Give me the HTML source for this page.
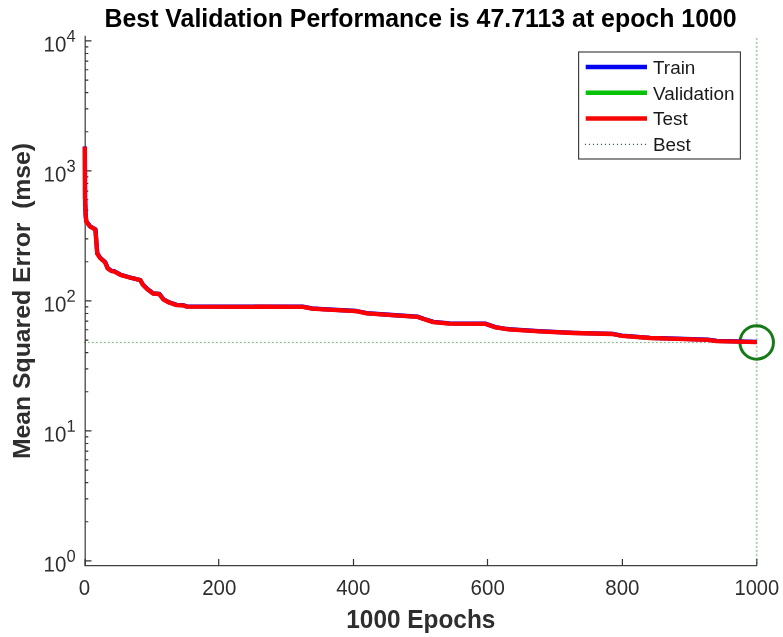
<!DOCTYPE html>
<html lang="en"><head><meta charset="utf-8"><title>Best Validation Performance</title>
<style>html,body{margin:0;padding:0;background:#fff;}body{width:783px;height:637px;overflow:hidden;}svg{display:block;font-family:"Liberation Sans",Arial,Helvetica,sans-serif;}.tk{font-size:20.5px;fill:#2e2e2e;}.ex{font-size:16.5px;fill:#2e2e2e;}.lb{font-size:24.5px;font-weight:bold;fill:#2e2e2e;}.tt{font-size:24.9px;font-weight:bold;fill:#000;}.lg{font-size:18.9px;fill:#1a1a1a;}</style></head><body>
<svg width="783" height="637" viewBox="0 0 783 637">
<rect width="783" height="637" fill="#fff"/>
<text class="tt" transform="translate(420.6 26.6) scale(1 1.04)" text-anchor="middle">Best Validation Performance is 47.7113 at epoch 1000</text>
<g stroke="#404040" stroke-width="1" fill="none" shape-rendering="auto">
<path d="M85.2 35.8V565.7H757.0" stroke-width="1.25"/>
<path d="M85.10 565.7v-6.7M218.70 565.7v-6.7M353.50 565.7v-6.7M487.50 565.7v-6.7M622.40 565.7v-6.7M756.80 565.7v-6.7" stroke-width="1.2" stroke="#333"/>
<path d="M85.0 560.90h6.5M85.0 521.77h3.3M85.0 498.87h3.3M85.0 482.63h3.3M85.0 470.03h3.3M85.0 459.74h3.3M85.0 451.04h3.3M85.0 443.50h3.3M85.0 436.85h3.3M85.0 430.90h6.5M85.0 391.77h3.3M85.0 368.87h3.3M85.0 352.63h3.3M85.0 340.03h3.3M85.0 329.74h3.3M85.0 321.04h3.3M85.0 313.50h3.3M85.0 306.85h3.3M85.0 300.90h6.5M85.0 261.77h3.3M85.0 238.87h3.3M85.0 222.63h3.3M85.0 210.03h3.3M85.0 199.74h3.3M85.0 191.04h3.3M85.0 183.50h3.3M85.0 176.85h3.3M85.0 170.90h6.5M85.0 131.77h3.3M85.0 108.87h3.3M85.0 92.63h3.3M85.0 80.03h3.3M85.0 69.74h3.3M85.0 61.04h3.3M85.0 53.50h3.3M85.0 46.85h3.3M85.0 40.90h6.5" stroke-width="1.2" stroke="#333"/>
</g>
<text class="tk" transform="translate(84.4 594.9) scale(1 1.05)" text-anchor="middle">0</text>
<text class="tk" transform="translate(219.3 594.9) scale(1 1.05)" text-anchor="middle">200</text>
<text class="tk" transform="translate(353.3 594.9) scale(1 1.05)" text-anchor="middle">400</text>
<text class="tk" transform="translate(487.7 594.9) scale(1 1.05)" text-anchor="middle">600</text>
<text class="tk" transform="translate(622.4 594.9) scale(1 1.05)" text-anchor="middle">800</text>
<text class="tk" style="font-size:20.1px" transform="translate(756.8 594.9) scale(1 1.07)" text-anchor="middle">1000</text>
<text class="tk" transform="translate(66.3 571.50) rotate(0.03) scale(1 1.05)" text-anchor="end">10</text>
<text class="ex" transform="translate(66.5 561.70) rotate(0.03) scale(1 1.04)">0</text>
<text class="tk" transform="translate(66.3 441.50) rotate(0.03) scale(1 1.05)" text-anchor="end">10</text>
<text class="ex" transform="translate(66.5 431.70) rotate(0.03) scale(1 1.04)">1</text>
<text class="tk" transform="translate(66.3 311.50) rotate(0.03) scale(1 1.05)" text-anchor="end">10</text>
<text class="ex" transform="translate(66.5 301.70) rotate(0.03) scale(1 1.04)">2</text>
<text class="tk" transform="translate(66.3 181.50) rotate(0.03) scale(1 1.05)" text-anchor="end">10</text>
<text class="ex" transform="translate(66.5 171.70) rotate(0.03) scale(1 1.04)">3</text>
<text class="tk" transform="translate(66.3 51.50) rotate(0.03) scale(1 1.05)" text-anchor="end">10</text>
<text class="ex" transform="translate(66.5 41.70) rotate(0.03) scale(1 1.04)">4</text>
<text class="lb" style="font-size:24.4px" transform="translate(420.8 627.7) scale(1 1.02)" text-anchor="middle">1000 Epochs</text>
<text class="lb" style="font-size:24.75px" transform="translate(29.7 300.95) rotate(-90) scale(1 0.995)" text-anchor="middle" xml:space="preserve">Mean Squared Error  (mse)</text>
<g stroke="#3cc03c" stroke-opacity="0.05" stroke-width="3.4" fill="none">
<path d="M86.0 342.5H756.7"/>
<path d="M756.7 37.0V565.5"/>
</g>
<g stroke="#1a481a" fill="none">
<path d="M84.2 342.5H756.7" stroke-opacity="0.62" stroke-width="1.2" stroke-dasharray="1.2 2.8"/>
<path d="M756.7 38.4V565.5" stroke-opacity="0.55" stroke-width="1.7" stroke-dasharray="1 3"/>
</g>
<circle cx="756.7" cy="342.4" r="16.75" fill="none" stroke="#177a17" stroke-width="3"/>
<clipPath id="axclip"><rect x="80.0" y="36.0" width="676.9" height="529.5"/></clipPath>
<g clip-path="url(#axclip)">
<path d="M84.8 146.8 L85.0 198.0 L85.6 215.0 L86.2 221.5 L90.0 226.5 L95.4 229.6 L96.2 240.6 L97.2 253.5 L100.0 257.9 L105.1 262.3 L107.7 268.5 L111.5 271.1 L114.0 271.4 L120.4 274.9 L129.4 277.5 L140.2 280.2 L142.8 284.7 L147.3 289.2 L153.0 293.5 L159.4 294.2 L163.2 299.3 L169.0 302.5 L176.6 305.1 L183.0 305.4 L186.8 306.6 L302.6 306.9 L312.0 308.6 L323.0 309.4 L356.3 311.2 L366.7 313.4 L392.0 315.2 L417.2 316.8 L424.1 319.2 L433.3 322.1 L449.4 323.6 L485.0 323.8 L495.3 327.3 L506.8 329.2 L539.0 331.4 L573.4 333.0 L612.5 334.0 L621.7 335.9 L650.0 338.0 L676.5 338.8 L707.6 339.8 L716.7 341.1 L756.7 342.1" stroke="#0000ff" stroke-width="4.3" fill="none" stroke-linejoin="round" transform="translate(0.1,-0.2)"/>
<path d="M84.8 146.8 L85.0 198.0 L85.6 215.0 L86.2 221.5 L90.0 226.5 L95.4 229.6 L96.2 240.6 L97.2 253.5 L100.0 257.9 L105.1 262.3 L107.7 268.5 L111.5 271.1 L114.0 271.4 L120.4 274.9 L129.4 277.5 L140.2 280.2 L142.8 284.7 L147.3 289.2 L153.0 293.5 L159.4 294.2 L163.2 299.3 L169.0 302.5 L176.6 305.1 L183.0 305.4 L186.8 306.6 L302.6 306.9 L312.0 308.6 L323.0 309.4 L356.3 311.2 L366.7 313.4 L392.0 315.2 L417.2 316.8 L424.1 319.2 L433.3 322.1 L449.4 323.6 L485.0 323.8 L495.3 327.3 L506.8 329.2 L539.0 331.4 L573.4 333.0 L612.5 334.0 L621.7 335.9 L650.0 338.0 L676.5 338.8 L707.6 339.8 L716.7 341.1 L756.7 342.1" stroke="#ff0000" stroke-width="4.3" fill="none" stroke-linejoin="round"/>
</g>
<rect x="578.6" y="52" width="161.8" height="107" fill="#fff" stroke="#3c3c3c" stroke-width="1.15"/>
<path d="M585.7 67.05H647" stroke="#0404f0" stroke-width="4.5"/>
<text class="lg" x="653" y="74.0">Train</text>
<path d="M585.7 92.75H647" stroke="#06c206" stroke-width="4.5"/>
<text class="lg" x="653" y="99.7">Validation</text>
<path d="M585.7 118.50H647" stroke="#f40606" stroke-width="4.5"/>
<text class="lg" x="653" y="125.4">Test</text>
<path d="M584.9 144.4H647" stroke="#173f17" stroke-opacity="0.8" stroke-width="1.1" stroke-dasharray="1.2 2.8"/>
<text class="lg" x="653" y="151">Best</text>
</svg></body></html>
